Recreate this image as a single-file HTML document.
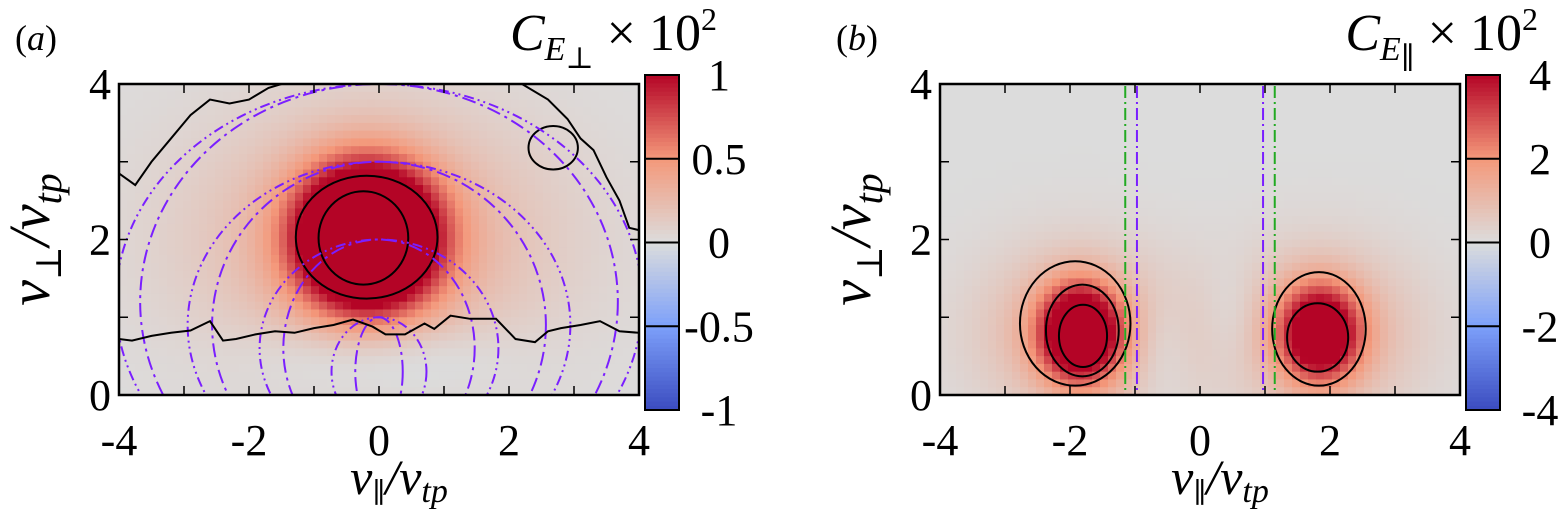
<!DOCTYPE html>
<html><head><meta charset="utf-8"><style>
html,body{margin:0;padding:0;background:#fff;overflow:hidden;width:1563px;height:519px;}
svg{display:block;}
text{font-family:"Liberation Serif","Times New Roman","DejaVu Serif",serif;}
</style></head><body>
<svg id="fig" width="1563" height="519" viewBox="0 0 1563 519">
<g id="pa"></g>
<g id="pb"></g>
</svg>
<script>
// ---- data ----
const xTicks = [-4,-2,0,2,4];
const yTicks = [0,2,4];
const cbTicksA = [1,0.5,0,-0.5,-1];
const cbTicksB = [4,2,0,-2,-4];
// blobs: [vpar, vperp, amp, sx, sy]
const blobsA = [[-0.18,2.03,2.3,0.7,0.6],[-0.1,2.0,0.36,1.9,1.15],[0,0.5,-0.17,1.3,0.35]];
const blobsB = [[-1.85,0.8,5.5,0.42,0.42],[-1.85,0.8,1.4,1.05,0.75],[1.85,0.8,4.8,0.42,0.42],[1.85,0.8,1.3,1.05,0.75],[-0.6,0.6,-0.45,0.3,0.5],[0.5,1.0,-0.4,0.3,0.5]];
// resonance arcs panel a: top vperp, half-width at vperp=0
const arcTops = [4,4,3,3,2,2,1,1];
const arcHalf = [3.66,3.32,2.66,2.32,1.66,1.33,0.66,0.33];
const arcStyle = ['ddd','dd','ddd','dd','ddd','dd','ddd','dd'];
// contour ellipses: [cx, cy, rx, ry]
const contA = [[-0.19,2.03,1.09,0.79],[-0.24,2.02,0.69,0.6],[2.68,3.18,0.38,0.28]];
const contB = [[-1.92,0.92,0.85,0.8],[-1.81,0.83,0.56,0.59],[-1.8,0.76,0.37,0.4],[1.83,0.85,0.72,0.73],[1.81,0.74,0.47,0.44]];
const zeroLineX = [-4,-3.8,-3.5,-3.2,-2.9,-2.6,-2.4,-2.2,-1.9,-1.6,-1.3,-1.0,-0.7,-0.4,-0.1,0.1,0.4,0.7,0.85,1.1,1.4,1.8,2.1,2.4,2.6,2.8,3.1,3.4,3.7,4];
const zeroLineY = [0.72,0.7,0.76,0.8,0.83,0.95,0.7,0.72,0.78,0.82,0.8,0.86,0.9,0.97,0.88,0.78,0.78,0.92,0.85,1.02,0.98,0.98,0.72,0.68,0.82,0.86,0.9,0.95,0.82,0.8];
const ulX = [-4,-3.75,-3.5,-3.2,-2.9,-2.6,-2.3,-2.0,-1.7,-1.5];
const ulY = [2.85,2.7,3.0,3.3,3.6,3.8,3.75,3.8,3.95,4.0];
const urX = [2.2,2.6,2.9,3.1,3.3,3.5,3.7,3.85,4];
const urY = [4.0,3.8,3.55,3.3,3.15,2.8,2.5,2.15,2.12];
const vLinesB = [-1.15,-0.97,0.97,1.15];
const vLineCol = ['#22aa22','#7a1fff','#7a1fff','#22aa22'];

const NS='http://www.w3.org/2000/svg';
function mk(tag,attrs,parent){const e=document.createElementNS(NS,tag);for(const k in attrs)e.setAttribute(k,attrs[k]);if(tag==='text')e.setAttribute('font-family','Liberation Serif, Times New Roman, DejaVu Serif, serif');parent.appendChild(e);return e;}
const stops=[[59,76,192],[125,160,250],[220,220,220],[244,152,122],[180,4,38]];
function cmap(t){t=Math.max(0,Math.min(1,t));const s=t*4;const i=Math.min(3,Math.floor(s));const f=s-i;const a=stops[i],b=stops[i+1];return `rgb(${Math.round(a[0]+(b[0]-a[0])*f)},${Math.round(a[1]+(b[1]-a[1])*f)},${Math.round(a[2]+(b[2]-a[2])*f)})`;}

function panel(g,L,cbL,blobs,vmax,cbTicks,letter,sub,cont){
  const R=L+520,T=84,B=395;
  const sx=v=>L+(v+4)/8*(R-L), sy=v=>B-v/4*(B-T);
  const clip='clip'+letter;
  const cp=mk('clipPath',{id:clip},g);mk('rect',{x:L,y:T,width:R-L,height:B-T},cp);
  const hm=mk('g',{'clip-path':`url(#${clip})`},g);
  
  
  const nx=65,ny=40,cw=(R-L)/nx,ch=(B-T)/ny;
  for(let i=0;i<nx;i++)for(let j=0;j<ny;j++){
    const vx=-4+(i+0.5)*8/nx, vy=4-(j+0.5)*4/ny;
    let v=0;for(const b of blobs){v+=b[2]*Math.exp(-((vx-b[0])**2/(2*b[3]**2)+(vy-b[1])**2/(2*b[4]**2)));}
    const c=mk('rect',{x:L+i*cw,y:T+j*ch,width:cw+0.6,height:ch+0.6,fill:cmap((v/vmax+1)/2)},hm);
    
    
  }
  const ov=mk('g',{'clip-path':`url(#${clip})`},g);
  cont.forEach(c=>{const e=mk('ellipse',{cx:sx(c[0]),cy:sy(c[1]),rx:c[2]*(R-L)/8,ry:c[3]*(B-T)/4,fill:'none',stroke:'#000','stroke-width':2},ov);
    });
  const fr=mk('rect',{x:L,y:T,width:R-L,height:B-T,fill:'none',stroke:'#000','stroke-width':2.5},g);
  
  for(let v=-3;v<=3;v++){mk('line',{x1:sx(v),x2:sx(v),y1:T,y2:T+9,stroke:'#000','stroke-width':1.5},g);mk('line',{x1:sx(v),x2:sx(v),y1:B,y2:B-9,stroke:'#000','stroke-width':1.5},g);}
  for(let v=1;v<=3;v++){mk('line',{x1:L,x2:L+9,y1:sy(v),y2:sy(v),stroke:'#000','stroke-width':1.5},g);mk('line',{x1:R,x2:R-9,y1:sy(v),y2:sy(v),stroke:'#000','stroke-width':1.5},g);}
  xTicks.forEach(v=>{const t=mk('text',{x:sx(v),y:455,'font-size':44,'text-anchor':'middle'},g);t.textContent=v;
    });
  yTicks.forEach(v=>{const t=mk('text',{x:L-8,y:sy(v)+15,'font-size':44,'text-anchor':'end'},g);t.textContent=v;
    });
  const cbT=75,cbB=410,cbW=34;
  const cb=mk('g',{},g);
  const n=80;for(let k=0;k<n;k++){mk('rect',{x:cbL,y:cbT+k*(cbB-cbT)/n,width:cbW,height:(cbB-cbT)/n+0.6,fill:cmap(1-(k+0.5)/n)},cb);}
  mk('rect',{x:cbL,y:cbT,width:cbW,height:cbB-cbT,fill:'none',stroke:'#000','stroke-width':2},cb);
  cbTicks.forEach((v,k)=>{const y=cbB-(v/cbTicks[0]+1)/2*(cbB-cbT);
    if(k>0&&k<cbTicks.length-1)mk('line',{x1:cbL,x2:cbL+cbW,y1:y,y2:y,stroke:'#000','stroke-width':2},cb);
    const t=mk('text',{x:cbL+cbW+40,y:y+15,'font-size':44,'text-anchor':'middle'},cb);t.textContent=v;
    });
  const la=mk('text',{x:L-104,y:50,'font-size':36},g);la.innerHTML='(<tspan font-style="italic">'+letter+'</tspan>)';
  
  const ti=mk('text',{x:cbL+cbW+38,y:50,'font-size':52,'text-anchor':'end'},g);
  ti.innerHTML='<tspan font-style="italic">C</tspan><tspan font-size="34" dy="10" font-style="italic">E</tspan><tspan font-size="30" dy="8">'+sub+'</tspan><tspan dy="-18"> × 10</tspan><tspan font-size="32" dy="-20">2</tspan>';
  
  const xl=mk('text',{x:(L+R)/2+20,y:494,'font-size':50,'text-anchor':'middle','font-style':'italic'},g);
  xl.innerHTML='v<tspan font-size="28" dy="8" font-style="normal">∥</tspan><tspan dy="-8">/v</tspan><tspan font-size="34" dy="8">tp</tspan>';
  
  const yl=mk('text',{x:0,y:0,'font-size':58,'text-anchor':'middle','font-style':'italic',transform:`translate(${L-70},${(T+B)/2}) rotate(-90)`},g);
  yl.innerHTML='v<tspan font-size="36" dy="12" font-style="normal">⊥</tspan><tspan dy="-12">/v</tspan><tspan font-size="40" dy="12">tp</tspan>';
  
  return {sx,sy,ov};
}
const A=panel(document.getElementById('pa'),119,645,blobsA,1,cbTicksA,'a','⊥',contA);
arcTops.forEach((top,k)=>{const h=arcHalf[k];const c=0.3*top, ry=0.7*top, rx=h/Math.sqrt(1-(c/ry)**2);
  const e=mk('ellipse',{cx:A.sx(0),cy:A.sy(c),rx:rx*65,ry:ry*77.75,fill:'none',stroke:'#7a1fff','stroke-width':2,'stroke-dasharray':arcStyle[k]==='dd'?'14,5,3,5':'10,4,2,4,2,4'},A.ov);
  });
function poly(xs,ys,name){const d=xs.map((x,i)=>(i?'L':'M')+A.sx(x)+','+A.sy(ys[i])).join(' ');
  const p=mk('path',{d,fill:'none',stroke:'#000','stroke-width':2},A.ov);}
poly(zeroLineX,zeroLineY,'zero-contour');poly(ulX,ulY,'zero-contour-upper-left');poly(urX,urY,'zero-contour-upper-right');
const Bp=panel(document.getElementById('pb'),940,1466,blobsB,4,cbTicksB,'b','∥',contB);
vLinesB.forEach((v,k)=>{const l=mk('line',{x1:Bp.sx(v),x2:Bp.sx(v),y1:86,y2:393,stroke:vLineCol[k],'stroke-width':2,'stroke-dasharray':'12,4,2,4'},Bp.ov);
  });
</script>
</body></html>
